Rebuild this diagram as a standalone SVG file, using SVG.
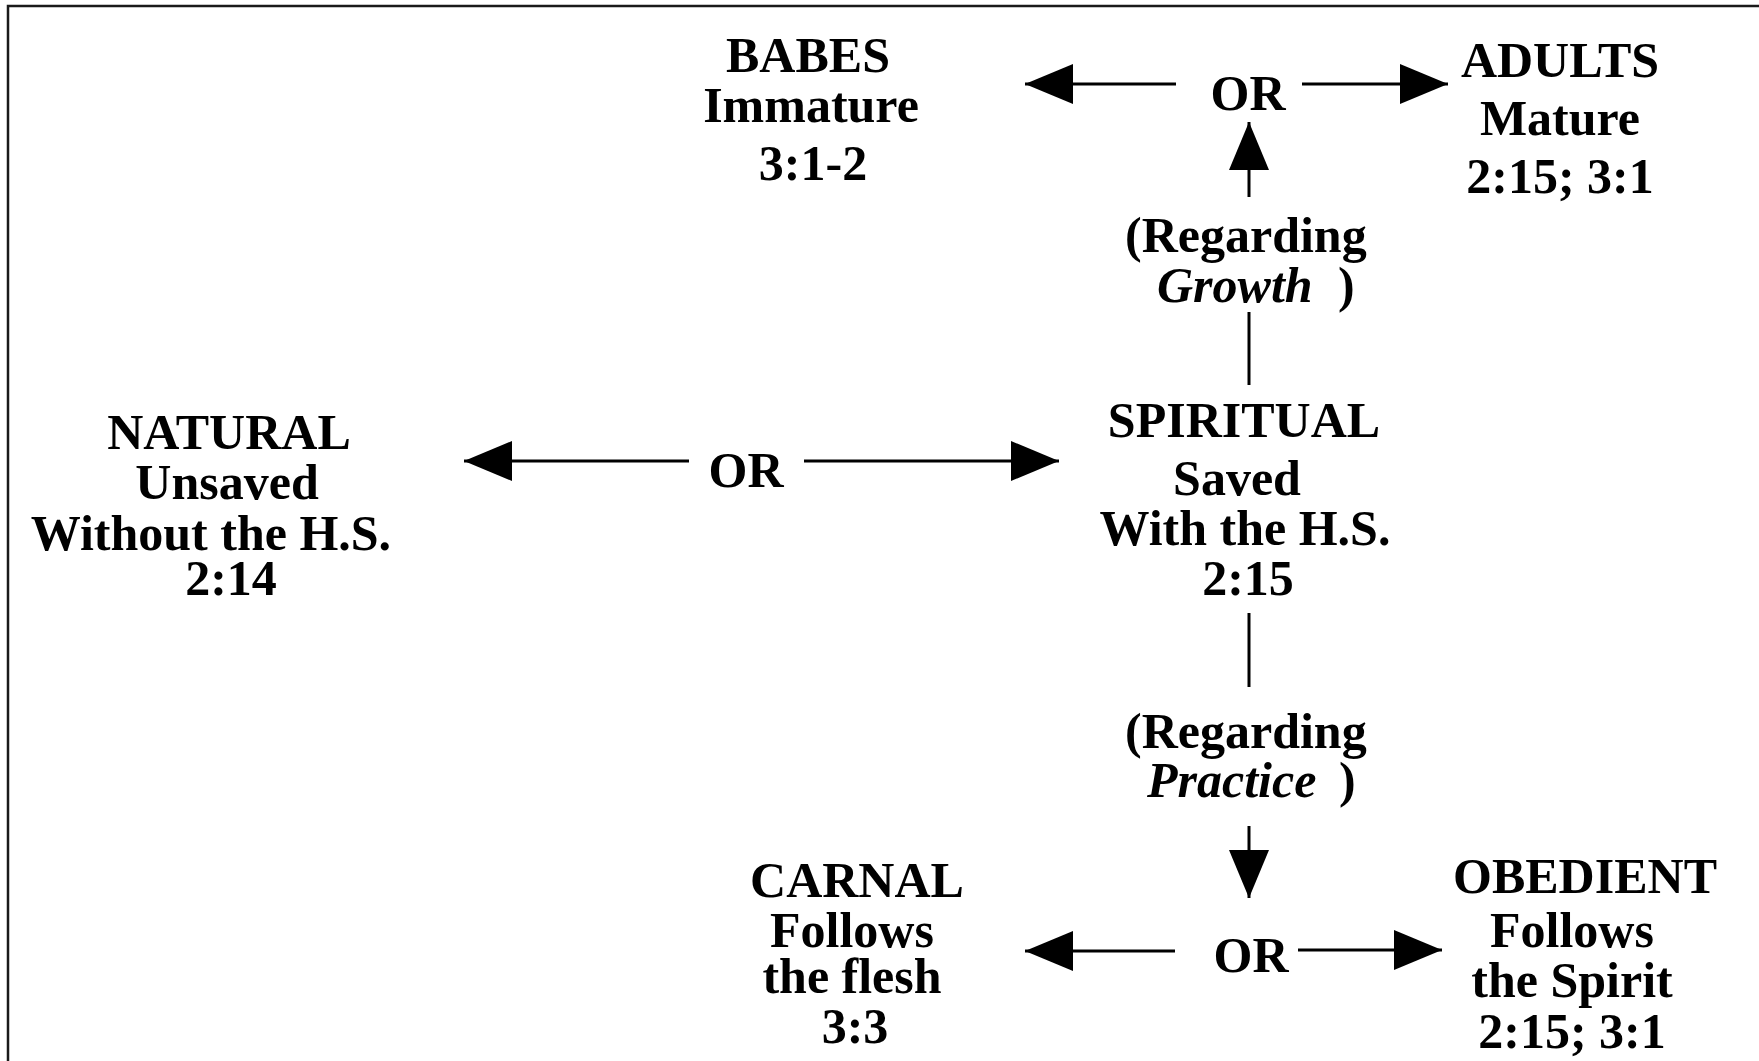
<svg xmlns="http://www.w3.org/2000/svg" width="1759" height="1061" viewBox="0 0 1759 1061">
<style>
text{font-family:"Liberation Serif","Times New Roman",serif;font-weight:bold;font-size:50px;fill:#000}
.c{text-anchor:middle}
.i{font-style:italic}
.ln{stroke:#000;stroke-width:3;fill:none}
.ar{marker-end:url(#ah)}
</style>
<defs>
<marker id="ah" viewBox="0 0 48 40" refX="48" refY="20" markerWidth="48" markerHeight="40" markerUnits="userSpaceOnUse" orient="auto">
<path d="M0,0 L48,20 L0,40 Z" fill="#000"/>
</marker>
</defs>
<rect width="1759" height="1061" fill="#fff"/>
<path d="M8,1061 V6 H1759" stroke="#1a1a1a" stroke-width="2.5" fill="none"/>
<g id="connectors">
<line class="ln ar" x1="1176" y1="84" x2="1025" y2="84"/>
<line class="ln ar" x1="1302" y1="84" x2="1448" y2="84"/>
<line class="ln ar" x1="1249" y1="197" x2="1249" y2="122"/>
<line class="ln" x1="1249" y1="312" x2="1249" y2="385"/>
<line class="ln ar" x1="689" y1="461" x2="464" y2="461"/>
<line class="ln ar" x1="804" y1="461" x2="1059" y2="461"/>
<line class="ln" x1="1249" y1="613" x2="1249" y2="687"/>
<line class="ln ar" x1="1249" y1="826" x2="1249" y2="898"/>
<line class="ln ar" x1="1175" y1="951" x2="1025" y2="951"/>
<line class="ln ar" x1="1298" y1="950" x2="1442" y2="950"/>
</g>
<g id="babes">
<text class="c" x="808" y="72">BABES</text>
<text class="c" x="811" y="122">Immature</text>
<text class="c" x="813" y="180">3:1-2</text>
</g>
<g id="adults">
<text class="c" x="1560" y="77">ADULTS</text>
<text class="c" x="1560" y="135">Mature</text>
<text class="c" x="1560" y="193">2:15; 3:1</text>
</g>
<g id="or-top"><text class="c" x="1248" y="110">OR</text></g>
<g id="growth">
<text x="1125" y="252">(Regarding</text>
<text x="1157" y="302" class="i">Growth</text>
<text x="1338" y="302">)</text>
</g>
<g id="natural">
<text class="c" x="229" y="449">NATURAL</text>
<text class="c" x="227" y="499">Unsaved</text>
<text class="c" x="211" y="550">Without the H.S.</text>
<text class="c" x="231" y="595">2:14</text>
</g>
<g id="or-mid"><text class="c" x="746" y="487">OR</text></g>
<g id="spiritual">
<text class="c" x="1244" y="437">SPIRITUAL</text>
<text class="c" x="1237" y="495">Saved</text>
<text class="c" x="1245" y="545">With the H.S.</text>
<text class="c" x="1248" y="595">2:15</text>
</g>
<g id="practice">
<text x="1125" y="748">(Regarding</text>
<text x="1147" y="797" class="i">Practice</text>
<text x="1339" y="797">)</text>
</g>
<g id="carnal">
<text class="c" x="857" y="897">CARNAL</text>
<text class="c" x="852" y="947">Follows</text>
<text class="c" x="852" y="993">the flesh</text>
<text class="c" x="855" y="1043">3:3</text>
</g>
<g id="or-bot"><text class="c" x="1251" y="972">OR</text></g>
<g id="obedient">
<text class="c" x="1585" y="893">OBEDIENT</text>
<text class="c" x="1572" y="947">Follows</text>
<text class="c" x="1572" y="997">the Spirit</text>
<text class="c" x="1572" y="1048">2:15; 3:1</text>
</g>
</svg>
